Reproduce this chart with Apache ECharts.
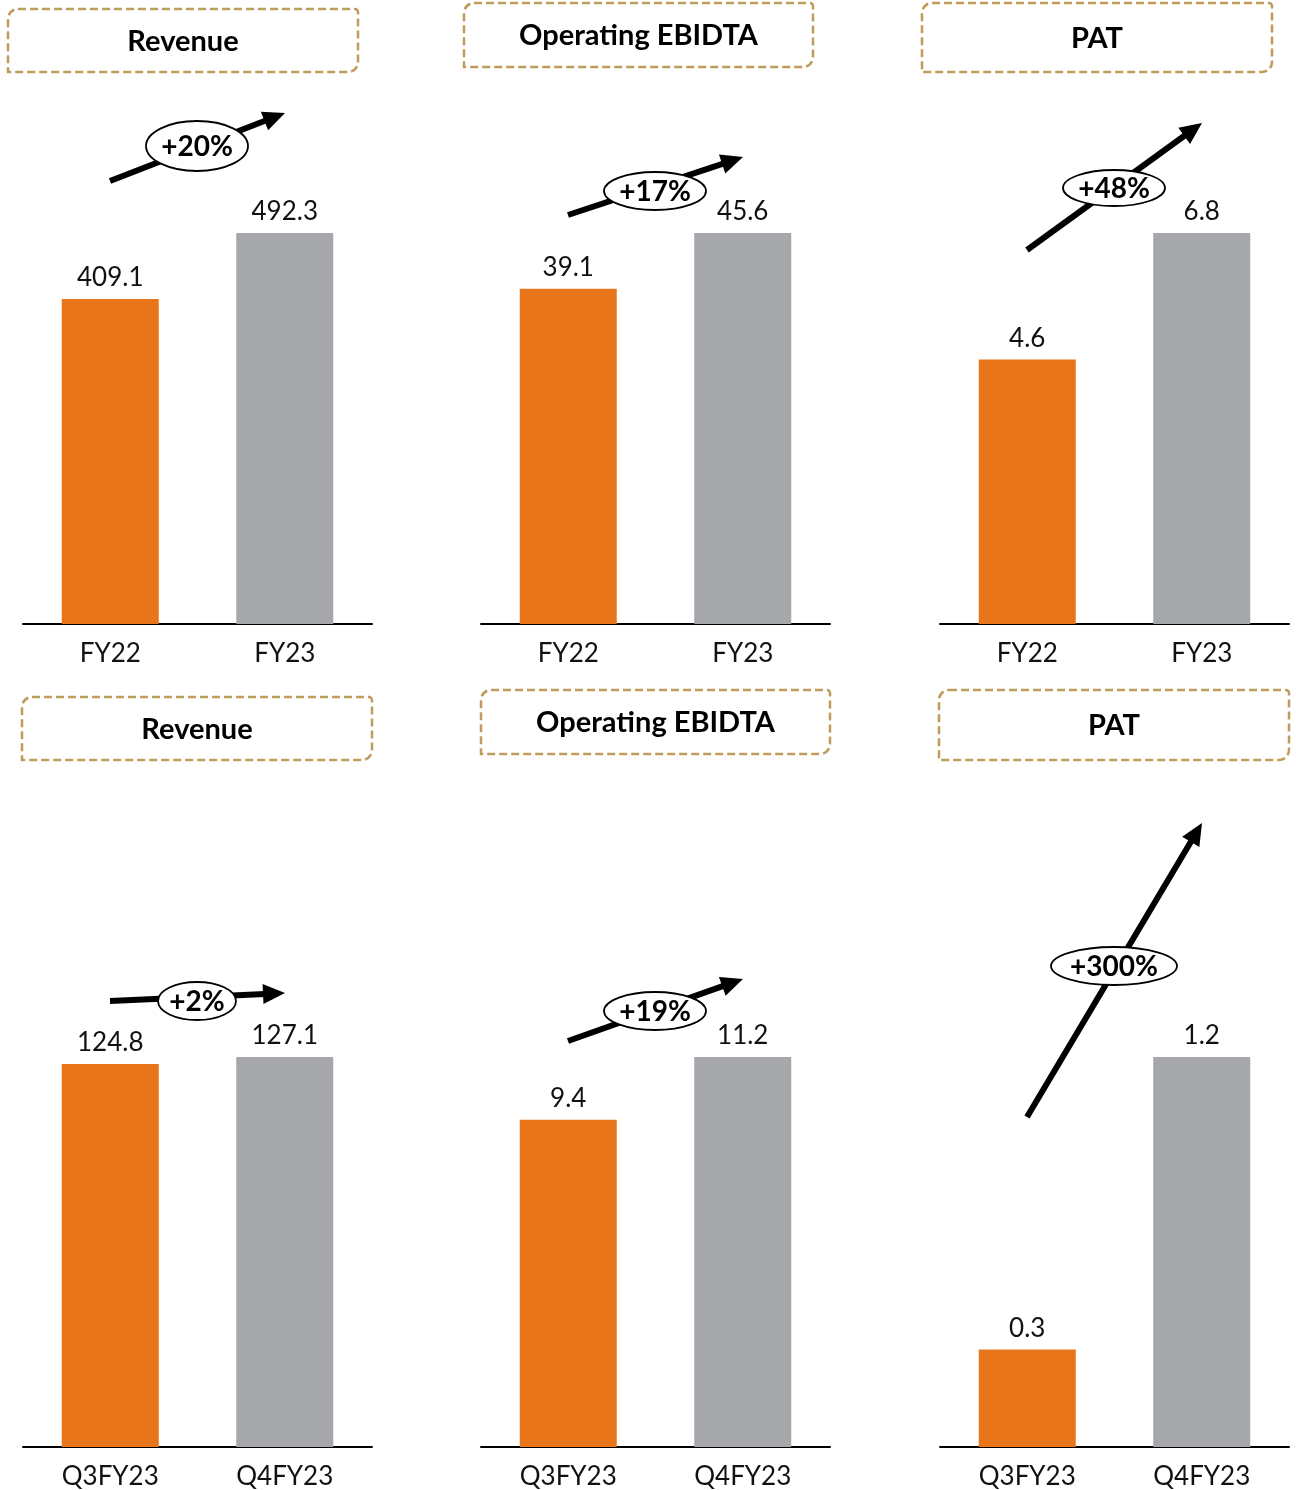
<!DOCTYPE html>
<html>
<head>
<meta charset="utf-8">
<title>Financial highlights</title>
<script src="https://cdn.jsdelivr.net/npm/echarts@6/dist/echarts.min.js"></script>
<style>
    html, body { margin: 0; padding: 0; background: #fff; }
    #chart { width: 1296px; height: 1490px; }
</style>
</head>
<body>
<div id="chart"></div>
<script>
// data
const panelTitles = ['Revenue', 'Operating EBIDTA', 'PAT', 'Revenue', 'Operating EBIDTA', 'PAT'];
const annualCategories = ['FY22', 'FY23'];
const quarterCategories = ['Q3FY23', 'Q4FY23'];
const revenueAnnual = [409.1, 492.3];
const ebitdaAnnual = [39.1, 45.6];
const patAnnual = [4.6, 6.8];
const revenueQuarter = [124.8, 127.1];
const ebitdaQuarter = [9.4, 11.2];
const patQuarter = [0.3, 1.2];
const growthLabels = ['+20%', '+17%', '+48%', '+2%', '+19%', '+300%'];

const panelValues = [revenueAnnual, ebitdaAnnual, patAnnual, revenueQuarter, ebitdaQuarter, patQuarter];
const panelCategories = [annualCategories, annualCategories, annualCategories, quarterCategories, quarterCategories, quarterCategories];

// layout
const FONT = 'Lato, "Open Sans", sans-serif';
const colLeft = [23, 481, 940];
const rowTop = [233, 1057];
const gridW = 349;
const gridH = 391;
const barColors = ['#E8751A', '#A6A7AB'];

// title boxes [x, y, w, h]
const titleBoxes = [
    [8, 9, 350, 63], [464, 3, 349, 64], [922, 3, 350, 69],
    [22, 697, 350, 63], [481, 690, 349, 64], [939, 690, 350, 70]
];
// growth arrows [x1, y1, x2, y2] and ellipses [cx, cy, rx, ry]
const arrows = [
    [110, 181, 285, 113], [568, 215, 743, 157], [1027, 250, 1202, 123],
    [110, 1001, 285, 993], [568, 1041, 743, 979], [1027, 1117, 1202, 823]
];
const bubbles = [
    [197, 146, 51, 25], [655, 191, 51, 19], [1114, 188, 51, 18],
    [197, 1001, 39, 19], [655, 1011, 51, 19], [1114, 966, 63, 19]
];

const chart = echarts.init(document.getElementById('chart'));

const grids = [], xAxes = [], yAxes = [], series = [];
panelValues.forEach((vals, i) => {
    const col = i % 3;
    const row = Math.floor(i / 3);
    grids.push({ left: colLeft[col], top: rowTop[row], width: gridW, height: gridH });
    xAxes.push({
        type: 'category',
        gridIndex: i,
        data: panelCategories[i],
        axisLine: { lineStyle: { color: '#000', width: 2 } },
        axisTick: { show: false },
        axisLabel: { color: '#111', fontSize: 26, fontFamily: FONT, margin: 17 }
    });
    yAxes.push({
        type: 'value',
        gridIndex: i,
        min: 0,
        max: Math.max(...vals),
        show: false,
        splitLine: { show: false }
    });
    series.push({
        type: 'bar',
        xAxisIndex: i,
        yAxisIndex: i,
        barWidth: 97,
        data: vals.map((v, k) => ({ value: v, itemStyle: { color: barColors[k] } })),
        label: {
            show: true,
            position: 'top',
            distance: 8,
            color: '#111',
            fontSize: 26,
            fontFamily: FONT
        }
    });
});

// 标题框、箭头和增长标签
const graphics = [];
titleBoxes.forEach((b, i) => {
    graphics.push({
        type: 'rect',
        shape: { x: b[0], y: b[1], width: b[2], height: b[3], r: [10, 3, 10, 0] },
        style: { fill: '#fff', stroke: '#BF9C5C', lineWidth: 2.5, lineDash: [8, 4] }
    });
    graphics.push({
        type: 'text',
        x: b[0] + b[2] / 2,
        y: b[1] + b[3] / 2 + 1,
        style: {
            text: panelTitles[i],
            fill: '#000',
            font: 'bold 29px ' + FONT,
            align: 'center',
            verticalAlign: 'middle'
        }
    });
});

arrows.forEach((a, i) => {
    const [x1, y1, x2, y2] = a;
    const ang = Math.atan2(y2 - y1, x2 - x1);
    const headLen = 22, headHalf = 10;
    const bx = x2 - headLen * Math.cos(ang);
    const by = y2 - headLen * Math.sin(ang);
    const px = -Math.sin(ang), py = Math.cos(ang);
    graphics.push({
        type: 'line',
        shape: { x1: x1, y1: y1, x2: bx + 2 * Math.cos(ang), y2: by + 2 * Math.sin(ang) },
        style: { stroke: '#000', lineWidth: 6 },
        z: 10
    });
    graphics.push({
        type: 'polygon',
        shape: { points: [[x2, y2], [bx + px * headHalf, by + py * headHalf], [bx - px * headHalf, by - py * headHalf]] },
        style: { fill: '#000' },
        z: 10
    });
    const e = bubbles[i];
    graphics.push({
        type: 'ellipse',
        shape: { cx: e[0], cy: e[1], rx: e[2], ry: e[3] },
        style: { fill: '#fff', stroke: '#000', lineWidth: 1.8 },
        z: 11
    });
    graphics.push({
        type: 'text',
        x: e[0],
        y: e[1] + 1,
        style: {
            text: growthLabels[i],
            fill: '#000',
            font: 'bold 28px ' + FONT,
            align: 'center',
            verticalAlign: 'middle'
        },
        z: 12
    });
});

chart.setOption({
    animation: false,
    backgroundColor: '#fff',
    grid: grids,
    xAxis: xAxes,
    yAxis: yAxes,
    series: series,
    graphic: { elements: graphics }
});
</script>
</body>
</html>
